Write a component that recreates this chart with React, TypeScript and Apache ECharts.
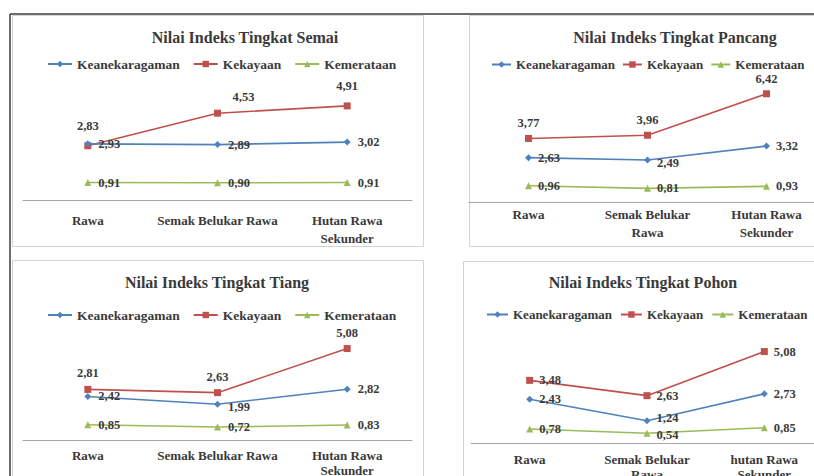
import React, { useEffect, useRef } from "react";
import * as echarts from "echarts";

// ---- Data ----
const seriesNames = ["Keanekaragaman", "Kekayaan", "Kemerataan"];
const panelTitles = [
  "Nilai Indeks Tingkat Semai",
  "Nilai Indeks Tingkat Pancang",
  "Nilai Indeks Tingkat Tiang",
  "Nilai Indeks Tingkat Pohon",
];
const categoriesSemai = ["Rawa", "Semak Belukar Rawa", "Hutan Rawa\nSekunder"];
const categoriesPancang = ["Rawa", "Semak Belukar\nRawa", "Hutan Rawa\nSekunder"];
const categoriesTiang = ["Rawa", "Semak Belukar Rawa", "Hutan Rawa\nSekunder"];
const categoriesPohon = ["Rawa", "Semak Belukar\nRawa", "hutan Rawa\nSekunder"];

const semaiKeanekaragaman = [2.93, 2.89, 3.02];
const semaiKekayaan = [2.83, 4.53, 4.91];
const semaiKemerataan = [0.91, 0.9, 0.91];

const pancangKeanekaragaman = [2.63, 2.49, 3.32];
const pancangKekayaan = [3.77, 3.96, 6.42];
const pancangKemerataan = [0.96, 0.81, 0.93];

const tiangKeanekaragaman = [2.42, 1.99, 2.82];
const tiangKekayaan = [2.81, 2.63, 5.08];
const tiangKemerataan = [0.85, 0.72, 0.83];

const pohonKeanekaragaman = [2.43, 1.24, 2.73];
const pohonKekayaan = [3.48, 2.63, 5.08];
const pohonKemerataan = [0.78, 0.54, 0.85];

// ---- Styles ----
const colors = ["#4F81BD", "#C0504D", "#9BBB59"];
const symbols = ["diamond", "rect", "triangle"];
const symbolSizes = [7, 7, 7];
const FONT = "Liberation Serif";
const TEXT = "#3a3a3a";

const panels = [
  {
    title: panelTitles[0],
    cats: categoriesSemai,
    values: [semaiKeanekaragaman, semaiKekayaan, semaiKemerataan],
    grid: { left: 23, top: 85, width: 389, height: 115 },
    yMax: 6,
    titleX: 245, titleY: 29,
    legendX: 47, legendY: 57, legendGap: 13, legendItemW: 24, legendFont: 13.5,
    labelPos: ["right", "top", "right"],
    labelDist: [7, 10, 7],
    catMargin: 11, catLine: 18,
    labelOffsets: { "1-1": [26, 4] } as Record<string, number[]>,
  },
  {
    title: panelTitles[1],
    cats: categoriesPancang,
    values: [pancangKeanekaragaman, pancangKekayaan, pancangKemerataan],
    grid: { left: 469, top: 84, width: 357, height: 118 },
    yMax: 7,
    titleX: 675, titleY: 29,
    legendX: 491, legendY: 58, legendGap: 7, legendItemW: 19, legendFont: 13,
    labelPos: ["right", "top", "right"],
    labelDist: [6, 5, 6],
    catMargin: 3, catLine: 18,
    labelOffsets: { "1-0": [0, 3] } as Record<string, number[]>,
  },
  {
    title: panelTitles[2],
    cats: categoriesTiang,
    values: [tiangKeanekaragaman, tiangKekayaan, tiangKemerataan],
    grid: { left: 23, top: 332, width: 389, height: 108 },
    yMax: 6,
    titleX: 217, titleY: 274,
    legendX: 47, legendY: 308, legendGap: 13, legendItemW: 24, legendFont: 13.5,
    labelPos: ["right", "top", "right"],
    labelDist: [7, 6, 7],
    catMargin: 8, catLine: 15,
    labelOffsets: { "1-0": [0, 3] } as Record<string, number[]>,
  },
  {
    title: panelTitles[3],
    cats: categoriesPohon,
    values: [pohonKeanekaragaman, pohonKekayaan, pohonKemerataan],
    grid: { left: 471, top: 335, width: 352, height: 108 },
    yMax: 6,
    titleX: 643, titleY: 274,
    legendX: 486, legendY: 308, legendGap: 8, legendItemW: 21, legendFont: 13,
    labelPos: ["right", "right", "right"],
    labelDist: [6, 6, 6],
    catMargin: 9, catLine: 15,
    labelOffsets: { "1-0": [0, -3], "1-2": [0, 2] } as Record<string, number[]>,
  },
];

const fmt = (p: any) => Number(p.value).toFixed(2).replace(".", ",");

function buildOption() {
  const grid: any[] = [];
  const xAxis: any[] = [];
  const yAxis: any[] = [];
  const series: any[] = [];
  const title: any[] = [];
  const legend: any[] = [];

  panels.forEach((p, i) => {
    grid.push({ ...p.grid, containLabel: false, outerBoundsMode: "none" });
    xAxis.push({
      type: "category",
      gridIndex: i,
      data: p.cats,
      boundaryGap: true,
      axisLine: { lineStyle: { color: "#a6a6a6", width: 1 } },
      axisTick: { show: false },
      axisLabel: {
        interval: 0,
        margin: p.catMargin,
        fontFamily: FONT,
        fontWeight: "bold",
        fontSize: 13,
        lineHeight: p.catLine,
        color: TEXT,
      },
    });
    yAxis.push({
      type: "value",
      gridIndex: i,
      min: 0,
      max: p.yMax,
      show: false,
      splitLine: { show: false },
    });
    title.push({
      text: p.title,
      left: p.titleX,
      top: p.titleY,
      padding: 0,
      textAlign: "center",
      textStyle: { fontFamily: FONT, fontWeight: "bold", fontSize: 16, color: TEXT },
    });
    legend.push({
      data: seriesNames,
      left: p.legendX,
      top: p.legendY,
      width: 400,
      orient: "horizontal",
      itemGap: p.legendGap,
      itemWidth: p.legendItemW,
      itemHeight: 8,
      padding: 0,
      selectedMode: false,
      textStyle: { fontFamily: FONT, fontWeight: "bold", fontSize: p.legendFont, color: TEXT },
    });
    seriesNames.forEach((name, s) => {
      series.push({
        name,
        type: "line",
        xAxisIndex: i,
        yAxisIndex: i,
        data: p.values[s].map((v, k) => {
          const off = p.labelOffsets[`${k}-${s}`];
          return off ? { value: v, label: { offset: off } } : v;
        }),
        symbol: symbols[s],
        symbolSize: symbolSizes[s],
        showAllSymbol: true,
        itemStyle: { color: colors[s] },
        lineStyle: { color: colors[s], width: 1.6 },
        z: 3 - s,
        label: {
          show: true,
          position: p.labelPos[s],
          distance: p.labelDist[s],
          formatter: fmt,
          fontFamily: FONT,
          fontWeight: "bold",
          fontSize: 12.5,
          color: TEXT,
        },
      });
    });
  });

  const frame = { stroke: "#d4d4d4", lineWidth: 1, fill: "none" };
  const graphic: any[] = [
    { type: "rect", shape: { x: 12.5, y: 15.5, width: 411, height: 231 }, style: frame, silent: true },
    { type: "rect", shape: { x: 469.5, y: 15.5, width: 360, height: 231 }, style: frame, silent: true },
    { type: "rect", shape: { x: 12.5, y: 260.5, width: 411, height: 230 }, style: frame, silent: true },
    { type: "rect", shape: { x: 463.5, y: 261.5, width: 370, height: 230 }, style: frame, silent: true },
    { type: "line", shape: { x1: 10, y1: 14, x2: 814, y2: 14 }, style: { stroke: "#3c3c3c", lineWidth: 1.5 }, silent: true },
    { type: "line", shape: { x1: 10, y1: 14, x2: 10, y2: 476 }, style: { stroke: "#3c3c3c", lineWidth: 1.5 }, silent: true },
  ];

  return {
    animation: false,
    backgroundColor: "#ffffff",
    grid,
    xAxis,
    yAxis,
    series,
    title,
    legend,
    graphic,
  };
}

export default function App() {
  const ref = useRef<HTMLDivElement>(null);
  useEffect(() => {
    if (!ref.current) return;
    const chart = echarts.init(ref.current, undefined, { renderer: "svg" });
    chart.setOption(buildOption() as any);
    return () => chart.dispose();
  }, []);
  return (
    <div
      ref={ref}
      style={{ position: "fixed", left: 0, top: 0, width: 814, height: 476, background: "#fff" }}
    />
  );
}
